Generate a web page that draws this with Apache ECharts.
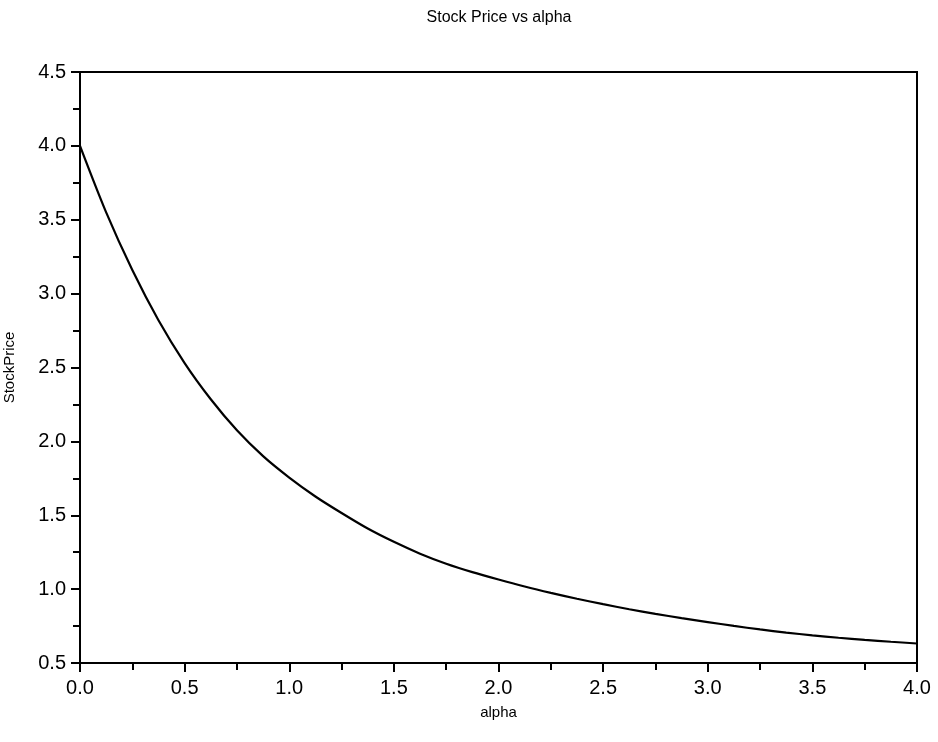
<!DOCTYPE html>
<html>
<head>
<meta charset="utf-8">
<script src="https://cdn.jsdelivr.net/npm/echarts@6/dist/echarts.min.js"></script>
<style>html,body{margin:0;padding:0;background:#fff;}#c{width:938px;height:742px;}</style>
</head>
<body>
<div id="c"></div>
<script>
const alphaValues = [0, 0.125, 0.25, 0.375, 0.5, 0.625, 0.75, 0.875, 1.0, 1.125, 1.25, 1.375, 1.5, 1.625, 1.75, 1.875, 2.0, 2.125, 2.25, 2.375, 2.5, 2.625, 2.75, 2.875, 3.0, 3.125, 3.25, 3.375, 3.5, 3.625, 3.75, 3.875, 4.0];
const stockPrice = [4.00, 3.55, 3.16, 2.82, 2.53, 2.285, 2.075, 1.90, 1.755, 1.627, 1.515, 1.41, 1.32, 1.24, 1.172, 1.115, 1.065, 1.018, 0.975, 0.935, 0.898, 0.864, 0.833, 0.804, 0.777, 0.751, 0.727, 0.706, 0.687, 0.671, 0.657, 0.644, 0.632];
const titleText = 'Stock Price vs alpha';
const xName = 'alpha';
const yName = 'StockPrice';

const font = 'Liberation Sans, Arial, Helvetica, sans-serif';
const chart = echarts.init(document.getElementById('c'), null, {renderer: 'canvas'});
chart.setOption({
  animation: false,
  backgroundColor: '#fff',
  title: {
    text: titleText,
    left: 499,
    top: 10,
    padding: 0,
    textAlign: 'center',
    textStyle: {fontFamily: font, fontSize: 16, fontWeight: 'normal', color: '#000'}
  },
  grid: {
    left: 80, right: 21, top: 72, bottom: 79,
    outerBoundsMode: 'none',
    containLabel: false,
    show: true, borderColor: '#000', borderWidth: 2, backgroundColor: 'transparent'
  },
  xAxis: {
    type: 'value', min: 0, max: 4, interval: 0.5,
    name: xName, nameLocation: 'middle', nameGap: 42,
    nameTextStyle: {fontFamily: font, fontSize: 15, color: '#000'},
    axisLine: {show: true, onZero: false, lineStyle: {color: '#000', width: 2}},
    axisTick: {show: true, inside: false, length: 9, lineStyle: {color: '#000', width: 2}},
    minorTick: {show: true, splitNumber: 2, length: 7, lineStyle: {color: '#000', width: 2}},
    splitLine: {show: false},
    axisLabel: {fontFamily: font, fontSize: 20, color: '#000', margin: 15,
      formatter: v => v.toFixed(1)}
  },
  yAxis: {
    type: 'value', min: 0.5, max: 4.5, interval: 0.5,
    name: yName, nameLocation: 'middle', nameGap: 63, nameRotate: 90,
    nameTextStyle: {fontFamily: font, fontSize: 15, color: '#000'},
    axisLine: {show: true, onZero: false, lineStyle: {color: '#000', width: 2}},
    axisTick: {show: true, inside: false, length: 9, lineStyle: {color: '#000', width: 2}},
    minorTick: {show: true, splitNumber: 2, length: 7, lineStyle: {color: '#000', width: 2}},
    splitLine: {show: false},
    axisLabel: {fontFamily: font, fontSize: 20, color: '#000', margin: 14,
      formatter: v => v.toFixed(1)}
  },
  series: [{
    type: 'line',
    data: alphaValues.map((a, i) => [a, stockPrice[i]]),
    smooth: 0.3,
    showSymbol: false,
    lineStyle: {color: '#000', width: 2.2},
    clip: true
  }]
});
</script>
</body>
</html>
